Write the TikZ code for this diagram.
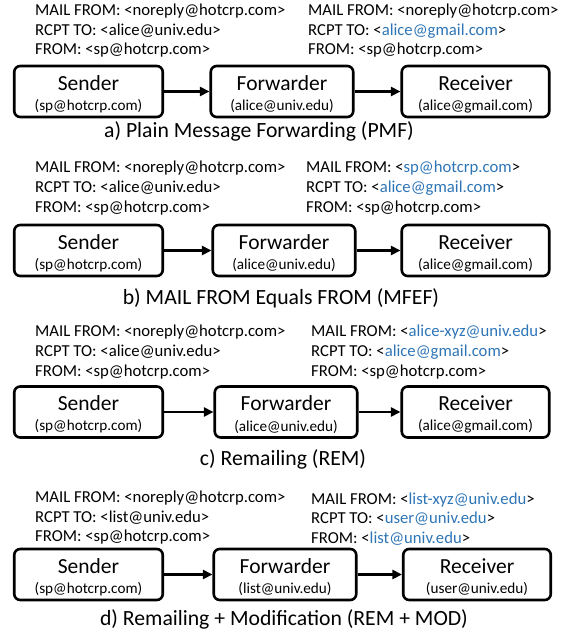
\documentclass[tikz,border=0pt]{standalone}
\usepackage{fontspec}
\setmainfont{Carlito}
\usetikzlibrary{arrows.meta}
\definecolor{myblue}{RGB}{46,117,182}
\newcommand\bl[1]{\textcolor{myblue}{#1}}
\begin{document}
\begin{tikzpicture}[x=1pt,y=-1pt,
  mbox/.style={draw, line width=2.6pt, rounded corners=6pt, minimum height=51pt, inner sep=0pt},
  sbox/.style={mbox, minimum width=148.5pt},
  fbox/.style={mbox, minimum width=142.5pt},
  rbox/.style={mbox, minimum width=147.5pt},
  ttl/.style={inner sep=0pt, font=\fontsize{21.5}{24}\selectfont},
  subt/.style={inner sep=0pt, font=\fontsize{15.2}{18}\selectfont},
  hdr/.style={inner sep=0pt, anchor=base west, font=\fontsize{16.7}{19}\selectfont},
  captxt/.style={inner sep=0pt, font=\fontsize{21.7}{24}\selectfont},
  arr/.style={line width=2.8pt, -{Triangle[length=9.5pt,width=9pt]}},
]
\useasboundingbox (0,0) rectangle (565,634);

% ---------------- panel a ----------------
\node[hdr] (al1) at (35,15.5) {MAIL FROM: <noreply@hotcrp.com>};
\node[hdr] (al2) at (35,35.5) {RCPT TO: <alice@univ.edu>};
\node[hdr] (al3) at (35,55) {FROM: <sp@hotcrp.com>};
\node[hdr] (ar1) at (308,15.5) {MAIL FROM: <noreply@hotcrp.com>};
\node[hdr] (ar2) at (308,35.5) {RCPT TO: <\bl{alice@gmail.com}>};
\node[hdr] (ar3) at (308,55) {FROM: <sp@hotcrp.com>};
\node[sbox] (Sa) at (88.5,91.5) {};
\node[fbox] (Fa) at (282,91.5) {};
\node[rbox] (Ra) at (475.5,91.5) {};
\node[ttl] (Sat) at ([yshift=8.5pt]Sa.center) {Sender};
\node[subt] (Sas) at ([yshift=-14.5pt]Sa.center) {(sp@hotcrp.com)};
\node[ttl] (Fat) at ([yshift=8.5pt]Fa.center) {Forwarder};
\node[subt] (Fas) at ([yshift=-14.5pt]Fa.center) {(alice@univ.edu)};
\node[ttl] (Rat) at ([yshift=8.5pt]Ra.center) {Receiver};
\node[subt] (Ras) at ([yshift=-14.5pt]Ra.center) {(alice@gmail.com)};
\draw[arr] (Sa.east) -- (Fa.west);
\draw[arr] (Fa.east) -- (Ra.west);
\node[captxt] (capa) at (259,131) {a) Plain Message Forwarding (PMF)};

% ---------------- panel b ----------------
\node[hdr] (bl1) at (35,172.5) {MAIL FROM: <noreply@hotcrp.com>};
\node[hdr] (bl2) at (35,192.3) {RCPT TO: <alice@univ.edu>};
\node[hdr] (bl3) at (35,212) {FROM: <sp@hotcrp.com>};
\node[hdr] (br1) at (306,172.5) {MAIL FROM: <\bl{sp@hotcrp.com}>};
\node[hdr] (br2) at (306,192.3) {RCPT TO: <\bl{alice@gmail.com}>};
\node[hdr] (br3) at (306,212) {FROM: <sp@hotcrp.com>};
\node[sbox] (Sb) at (88.5,250.5) {};
\node[fbox] (Fb) at (284,250.5) {};
\node[rbox] (Rb) at (475.5,250.5) {};
\node[ttl] (Sbt) at ([yshift=8.5pt]Sb.center) {Sender};
\node[subt] (Sbs) at ([yshift=-14.5pt]Sb.center) {(sp@hotcrp.com)};
\node[ttl] (Fbt) at ([yshift=8.5pt]Fb.center) {Forwarder};
\node[subt] (Fbs) at ([yshift=-14.5pt]Fb.center) {(alice@univ.edu)};
\node[ttl] (Rbt) at ([yshift=8.5pt]Rb.center) {Receiver};
\node[subt] (Rbs) at ([yshift=-14.5pt]Rb.center) {(alice@gmail.com)};
\draw[arr] (Sb.east) -- (Fb.west);
\draw[arr] (Fb.east) -- (Rb.west);
\node[captxt] (capb) at (281,298) {b) MAIL FROM Equals FROM (MFEF)};

% ---------------- panel c ----------------
\node[hdr] (cl1) at (35,336.5) {MAIL FROM: <noreply@hotcrp.com>};
\node[hdr] (cl2) at (35,356.3) {RCPT TO: <alice@univ.edu>};
\node[hdr] (cl3) at (35,376) {FROM: <sp@hotcrp.com>};
\node[hdr] (cr1) at (311,336.5) {MAIL FROM: <\bl{alice-xyz@univ.edu}>};
\node[hdr] (cr2) at (311,356.3) {RCPT TO: <\bl{alice@gmail.com}>};
\node[hdr] (cr3) at (311,376) {FROM: <sp@hotcrp.com>};
\node[sbox] (Sc) at (88.5,412) {};
\node[fbox] (Fc) at (286,412) {};
\node[rbox] (Rc) at (475.5,412) {};
\node[ttl] (Sct) at ([yshift=8.5pt]Sc.center) {Sender};
\node[subt] (Scs) at ([yshift=-14.5pt]Sc.center) {(sp@hotcrp.com)};
\node[ttl] (Fct) at ([yshift=8.5pt]Fc.center) {Forwarder};
\node[subt] (Fcs) at ([yshift=-14.5pt]Fc.center) {(alice@univ.edu)};
\node[ttl] (Rct) at ([yshift=8.5pt]Rc.center) {Receiver};
\node[subt] (Rcs) at ([yshift=-14.5pt]Rc.center) {(alice@gmail.com)};
\draw[arr] (Sc.east) -- (Fc.west);
\draw[arr] (Fc.east) -- (Rc.west);
\node[captxt] (capc) at (283,459) {c) Remailing (REM)};

% ---------------- panel d ----------------
\node[hdr] (dl1) at (35,502.5) {MAIL FROM: <noreply@hotcrp.com>};
\node[hdr] (dl2) at (35,522) {RCPT TO: <list@univ.edu>};
\node[hdr] (dl3) at (35,541.5) {FROM: <sp@hotcrp.com>};
\node[hdr] (dr1) at (311,504) {MAIL FROM: <\bl{list-xyz@univ.edu}>};
\node[hdr] (dr2) at (311,523.5) {RCPT TO: <\bl{user@univ.edu}>};
\node[hdr] (dr3) at (311,543) {FROM: <\bl{list@univ.edu}>};
\node[sbox] (Sd) at (88.5,574.5) {};
\node[fbox] (Fd) at (285,574.5) {};
\node[rbox] (Rd) at (477,574.5) {};
\node[ttl] (Sdt) at ([yshift=8.5pt]Sd.center) {Sender};
\node[subt] (Sds) at ([yshift=-14.5pt]Sd.center) {(sp@hotcrp.com)};
\node[ttl] (Fdt) at ([yshift=8.5pt]Fd.center) {Forwarder};
\node[subt] (Fds) at ([yshift=-14.5pt]Fd.center) {(list@univ.edu)};
\node[ttl] (Rdt) at ([yshift=8.5pt]Rd.center) {Receiver};
\node[subt] (Rds) at ([yshift=-14.5pt]Rd.center) {(user@univ.edu)};
\draw[arr] (Sd.east) -- (Fd.west);
\draw[arr] (Fd.east) -- (Rd.west);
\node[captxt] (capd) at (284,619) {d) Remailing + Modification (REM + MOD)};
\end{tikzpicture}
\end{document}
